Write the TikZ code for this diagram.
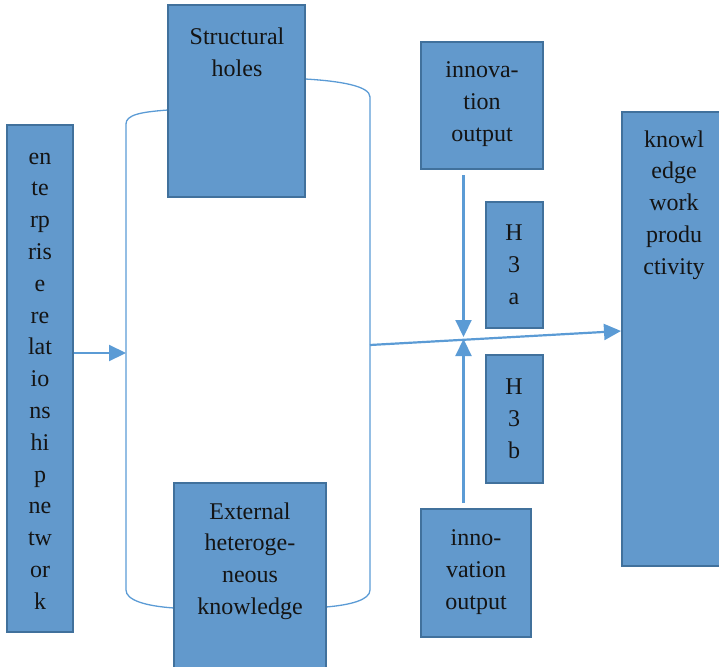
\documentclass[tikz,border=0pt]{standalone}
\usepackage{fontspec}
\setmainfont{Liberation Serif}
\usetikzlibrary{arrows.meta}
\definecolor{boxfill}{HTML}{6299CC}
\definecolor{boxline}{HTML}{41719C}
\definecolor{conn}{HTML}{5B9BD5}
\tikzset{
  blk/.style={draw=boxline, line width=2pt, fill=boxfill},
  txt/.style={align=center, font=\fontsize{24}{31.8}\selectfont, text=black!92, inner sep=0pt},
  can/.style={draw=conn, line width=1.3pt},
  arr/.style={draw=conn, line width=2.2pt, -{Triangle[length=17pt,width=16pt]}},
}
\begin{document}
\begin{tikzpicture}[x=1pt,y=-1pt]
\useasboundingbox (0,0) rectangle (719,666);
% cylinder outline
\draw[can] (168,110) .. controls (140,112) and (126,115) .. (126,124) -- (126,590) .. controls (126,600) and (145,606) .. (174,608);
\draw[can] (305,79) .. controls (340,81) and (370,86) .. (370,97) -- (370,590) .. controls (370,600) and (350,605) .. (326,607);
% boxes
\draw[blk] (7,125) rectangle (73,632);
\node[txt] (ern) at (40,381) {en\\te\\rp\\ris\\e\\re\\lat\\io\\ns\\hi\\p\\ne\\tw\\or\\k};
\draw[blk] (168,5) rectangle (305,197);
\node[txt] (sh) at (237,52) {Structural\\holes};
\draw[blk] (174,483) rectangle (326,670);
\node[txt] (ehk) at (250,561) {External\\heteroge-\\neous\\knowledge};
\draw[blk] (421,42) rectangle (543,169);
\node[txt] (io1) at (482,104) {innova-\\tion\\output};
\draw[blk] (486,202) rectangle (543,328);
\node[txt] (h3a) at (514,265) {H\\3\\a};
\draw[blk] (486,355) rectangle (543,483);
\node[txt] (h3b) at (514,419) {H\\3\\b};
\draw[blk] (421,509) rectangle (531,637);
\node[txt] (io2) at (476,572) {inno-\\vation\\output};
\draw[blk] (622,112) rectangle (728,566);
\node[txt] (kwp) at (674,205) {knowl\\edge\\work\\produ\\ctivity};
% connectors
\coordinate (lstart) at (74,353);
\coordinate (lend) at (126,353);
\coordinate (mstart) at (370,345);
\coordinate (mend) at (621,331);
\coordinate (top) at (463.5,175);
\coordinate (bot) at (463.5,503);
\coordinate (meet1) at (463.5,337);
\coordinate (meet2) at (463.5,339);
\draw[arr] (lstart) -- (lend);
\draw[arr] (mstart) -- (mend);
\draw[arr] (top) -- (meet1);
\draw[arr] (bot) -- (meet2);
\end{tikzpicture}
\end{document}
